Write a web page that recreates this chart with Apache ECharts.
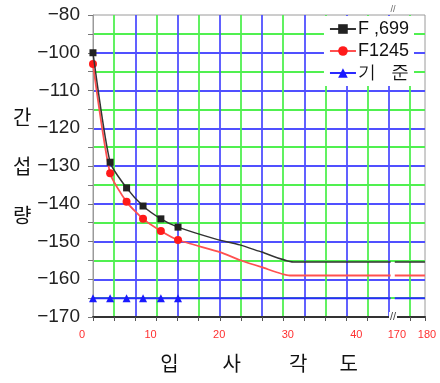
<!DOCTYPE html>
<html>
<head>
<meta charset="utf-8">
<script src="https://cdn.jsdelivr.net/npm/echarts@6/dist/echarts.min.js"></script>
<style>html,body{margin:0;padding:0;background:#fff}#c{width:440px;height:383px}</style>
</head>
<body>
<div id="c"></div>
<script>
// ---- data (x in degrees) ----
const measuredX = [1.6, 4.1, 6.5, 8.9, 11.5, 14.0];
const f699Y     = [-100, -129, -135.8, -140.6, -144, -146.2];
const f1245Y    = [-103, -131.9, -139.5, -144, -147.2, -149.6];
const baseY     = [-165, -165, -165, -165, -165, -165];

const f699TailX  = [19.4, 23.0, 26.2, 30.8, 45.0, 45.3, 45.6, 50.0];
const f699TailY  = [-149.3, -150.9, -152.8, -155.4, -155.4, null, -155.4, -155.4];
const f1245TailX = [20.1, 23.0, 26.2, 30.3, 45.0, 45.3, 45.6, 50.0];
const f1245TailY = [-152.8, -154.9, -156.8, -159, -159, null, -159, -159];
const baseTailX  = [45.0, 45.3, 45.6, 50.0];
const baseTailY  = [-165, null, -165, -165];

const xTickValues = [0, 10, 20, 30, 40, 45.9, 50.3];
const xTickLabels = ['0', '10', '20', '30', '40', '170', '180'];
const yTickValues = [-170, -160, -150, -140, -130, -120, -110, -100, -90];
const yTickLabels = ['\u2212170', '\u2212160', '\u2212150', '\u2212140', '\u2212130', '\u2212120', '\u2212110', '\u2212100', '\u221280'];

const seriesNames = ['F ,699', 'F1245', '기   준'];

function pts(xs, ys) { return xs.map((x, i) => [x, ys[i]]); }
const nMeasured = measuredX.length;

const chart = echarts.init(document.getElementById('c'), null, {renderer: 'canvas'});
const BLUE = '#5050ff', GREEN = '#50f050';

const option = {
  animation: false,
  backgroundColor: '#fff',
  grid: [
    {left: 93, right: 15, top: 15, bottom: 66, show: true, borderColor: '#9a9a9a', borderWidth: 1, backgroundColor: 'transparent'},
    {left: 82, right: 13, top: 15, bottom: 66}
  ],
  xAxis: [
    { // frame / grid lines
      gridIndex: 0, type: 'value', min: 0, max: 15.71, interval: 1,
      axisLine: {show: true, lineStyle: {color: '#333', width: 2}},
      axisTick: {show: true, length: 4, lineStyle: {color: '#555'}},
      axisLabel: {show: false},
      splitLine: {show: true, showMinLine: false, showMaxLine: false, lineStyle: {color: [GREEN, BLUE], width: 1.8}},
      name: '입{g1| }사{g2| }각{g3| }도', nameLocation: 'middle', nameGap: 36,
      nameTextStyle: {fontFamily: 'Noto Sans CJK KR', fontSize: 20, color: '#111',
        rich: {g1: {width: 44}, g2: {width: 48}, g3: {width: 32}}}
    },
    { // data axis with labels
      gridIndex: 1, type: 'value', min: 0, max: 50.3,
      axisLine: {show: false}, axisTick: {show: false}, splitLine: {show: false},
      axisLabel: {show: true, customValues: xTickValues, margin: 12, color: '#ff3030',
        fontSize: 11, fontFamily: 'Liberation Sans',
        formatter: v => { const i = xTickValues.findIndex(t => Math.abs(t - v) < 1e-6); return i >= 0 ? xTickLabels[i] : ''; }}
    }
  ],
  yAxis: [
    {
      gridIndex: 0, type: 'value', min: -170, max: -90, interval: 5,
      axisLine: {show: true, lineStyle: {color: '#9a9a9a', width: 1}},
      axisTick: {show: true, length: 5, lineStyle: {color: '#777'}},
      axisLabel: {show: true, margin: 13, fontSize: 19, color: '#222', fontFamily: 'Liberation Sans',
        formatter: v => { const i = yTickValues.indexOf(v); return i >= 0 ? yTickLabels[i] : ''; }},
      splitLine: {show: true, showMinLine: false, showMaxLine: false, lineStyle: {color: [GREEN, BLUE], width: 1.8}},
      name: '간\n섭\n량', nameLocation: 'middle', nameRotate: 0, nameGap: 61,
      nameTextStyle: {fontFamily: 'Noto Sans CJK KR', fontSize: 20, color: '#111', lineHeight: 49, align: 'right', padding: [0, 0, 0, 0]}
    },
    {gridIndex: 1, type: 'value', min: -170, max: -90, show: false, splitLine: {show: false}}
  ],
  legend: {
    orient: 'vertical', top: 16, right: 26, itemWidth: 26, itemHeight: 12, itemGap: 4,
    backgroundColor: '#fff', padding: [4, 5, 4, 5],
    textStyle: {fontSize: 18, fontFamily: 'Liberation Sans', color: '#111', padding: [0, 0, 0, -3]},
    data: seriesNames
  },
  series: [
    {name: seriesNames[0], type: 'line', xAxisIndex: 1, yAxisIndex: 1, smooth: 0.2,
     data: pts(measuredX, f699Y).concat(pts(f699TailX, f699TailY)),
     symbol: 'rect', symbolSize: (v, p) => p.dataIndex < nMeasured ? 7 : 0,
     itemStyle: {color: '#222'}, lineStyle: {color: '#333', width: 1.5}, z: 4},
    {name: seriesNames[1], type: 'line', xAxisIndex: 1, yAxisIndex: 1, smooth: 0.2,
     data: pts(measuredX, f1245Y).concat(pts(f1245TailX, f1245TailY)),
     symbol: 'circle', symbolSize: (v, p) => p.dataIndex < nMeasured ? 8 : 0,
     itemStyle: {color: '#ff1a1a'}, lineStyle: {color: '#ff5050', width: 1.8}, z: 3},
    {name: seriesNames[2], type: 'line', xAxisIndex: 1, yAxisIndex: 1,
     data: pts(measuredX, baseY).concat(pts(baseTailX, baseTailY)),
     symbol: 'triangle', symbolSize: (v, p) => p.dataIndex < nMeasured ? 8 : 0,
     itemStyle: {color: '#1a1aff'}, lineStyle: {color: '#2a2aff', width: 2}, z: 2}
  ],
  graphic: [
    {type: 'rect', shape: {x: 389, y: 312, width: 8, height: 10}, style: {fill: '#fff'}, z: 100},
    {type: 'text', x: 393, y: 317, style: {text: '//', fontSize: 11, fill: '#444', align: 'center', verticalAlign: 'middle', fontFamily: 'Liberation Sans'}, z: 101},
    {type: 'text', x: 393, y: 10, style: {text: '//', fontSize: 9, fill: '#666', align: 'center', verticalAlign: 'middle', fontFamily: 'Liberation Sans'}, z: 101}
  ]
};
chart.setOption(option);
</script>
</body>
</html>
